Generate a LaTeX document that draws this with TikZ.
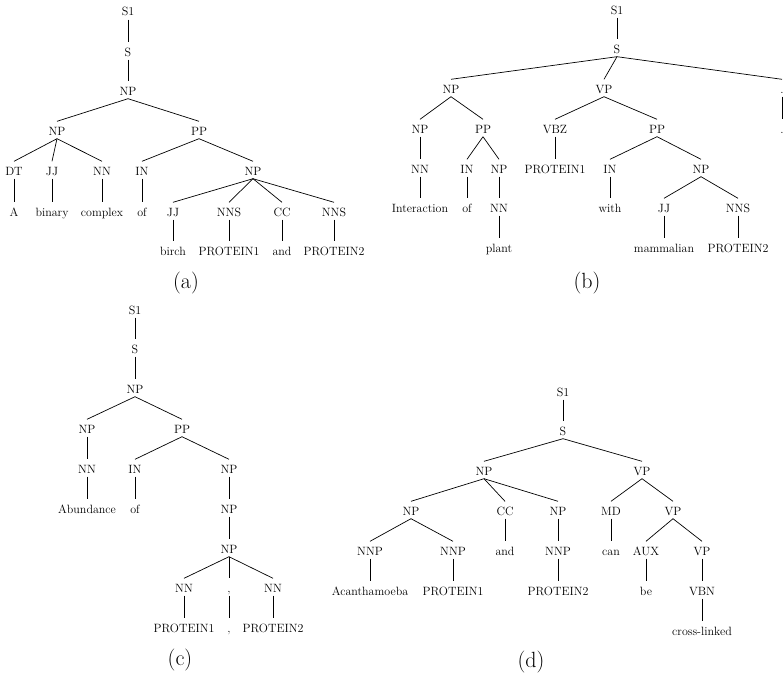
\documentclass[tikz,border=0pt]{standalone}
\tikzset{
  lbl/.style    = {inner sep=1.5pt, text height=12pt, text depth=2pt,
                   font=\fontsize{12}{14}\selectfont},
  captxt/.style = {inner sep=0pt, font=\fontsize{22}{26}\selectfont},
  edge/.style   = {draw=black, line width=0.7pt}
}
\begin{document}
\begin{tikzpicture}[x=1pt, y=-1pt]
  \useasboundingbox (0,0) rectangle (783,680);
  % (a)
  \node[lbl] (aS1) at (128,11) {S1};
  \node[lbl] (aS) at (128,51) {S};
  \node[lbl] (aNP) at (128,90) {NP};
  \node[lbl] (aNPl) at (57,130) {NP};
  \node[lbl] (aPP) at (199,130) {PP};
  \node[lbl] (aDT) at (14,170) {DT};
  \node[lbl] (aJJ) at (52,170) {JJ};
  \node[lbl] (aNN) at (102,170) {NN};
  \node[lbl] (aIN) at (142,170) {IN};
  \node[lbl] (aNPr) at (253,170) {NP};
  \node[lbl] (aA) at (14,211) {A};
  \node[lbl] (abinary) at (52,211) {binary};
  \node[lbl] (acomplex) at (102,211) {complex};
  \node[lbl] (aof) at (142,211) {of};
  \node[lbl] (aJJb) at (173,211) {JJ};
  \node[lbl] (aNNSa) at (229,211) {NNS};
  \node[lbl] (aCC) at (282,211) {CC};
  \node[lbl] (aNNSb) at (334,211) {NNS};
  \node[lbl] (abirch) at (173,250) {birch};
  \node[lbl] (aprotA) at (229,250) {PROTEIN1};
  \node[lbl] (aand) at (282,250) {and};
  \node[lbl] (aprotB) at (334,250) {PROTEIN2};
  \node[captxt] (capa) at (186,283) {(a)};
  \foreach \a/\b in {aS1/aS,aS/aNP,aNP/aNPl,aNP/aPP,aNPl/aDT,aNPl/aJJ,aNPl/aNN,
                     aDT/aA,aJJ/abinary,aNN/acomplex,aPP/aIN,aPP/aNPr,aIN/aof,
                     aNPr/aJJb,aNPr/aNNSa,aNPr/aCC,aNPr/aNNSb,aJJb/abirch,
                     aNNSa/aprotA,aCC/aand,aNNSb/aprotB}
    \draw[edge] (\a.south) -- (\b.north);
  % (b)
  \node[lbl] (bS1) at (617,9) {S1};
  \node[lbl] (bS) at (617,48) {S};
  \node[lbl] (bNP) at (451,88) {NP};
  \node[lbl] (bVP) at (604,88) {VP};
  \node[lbl] (bdot) at (782,88) {.};
  \node[lbl] (bNPa) at (420,128) {NP};
  \node[lbl] (bPP) at (483,128) {PP};
  \node[lbl] (bVBZ) at (555,128) {VBZ};
  \node[lbl] (bPPb) at (657,128) {PP};
  \node[lbl] (bdotw) at (782,128) {.};
  \node[lbl] (bNN) at (420,168) {NN};
  \node[lbl] (bIN) at (467,168) {IN};
  \node[lbl] (bNPb) at (499,168) {NP};
  \node[lbl] (bprotA) at (555,168) {PROTEIN1};
  \node[lbl] (bINb) at (610,168) {IN};
  \node[lbl] (bNPc) at (701,168) {NP};
  \node[lbl] (binter) at (420,207) {Interaction};
  \node[lbl] (bof) at (467,207) {of};
  \node[lbl] (bNNb) at (499,207) {NN};
  \node[lbl] (bwith) at (610,207) {with};
  \node[lbl] (bJJ) at (664,207) {JJ};
  \node[lbl] (bNNS) at (738,207) {NNS};
  \node[lbl] (bplant) at (499,247) {plant};
  \node[lbl] (bmamm) at (664,247) {mammalian};
  \node[lbl] (bprotB) at (738,247) {PROTEIN2};
  \node[captxt] (capb) at (587,283) {(b)};
  \foreach \a/\b in {bS1/bS,bS/bNP,bS/bVP,bS/bdot,bdot/bdotw,bNP/bNPa,bNP/bPP,
                     bNPa/bNN,bNN/binter,bPP/bIN,bPP/bNPb,bIN/bof,bNPb/bNNb,
                     bNNb/bplant,bVP/bVBZ,bVP/bPPb,bVBZ/bprotA,bPPb/bINb,
                     bPPb/bNPc,bINb/bwith,bNPc/bJJ,bNPc/bNNS,bJJ/bmamm,bNNS/bprotB}
    \draw[edge] (\a.south) -- (\b.north);
  % (c)
  \node[lbl] (cS1) at (135,309) {S1};
  \node[lbl] (cS) at (135,348) {S};
  \node[lbl] (cNP) at (135,388) {NP};
  \node[lbl] (cNPa) at (87,428) {NP};
  \node[lbl] (cPP) at (182,428) {PP};
  \node[lbl] (cNN) at (87,468) {NN};
  \node[lbl] (cIN) at (135,468) {IN};
  \node[lbl] (cNPb) at (229,468) {NP};
  \node[lbl] (cabund) at (87,508) {Abundance};
  \node[lbl] (cof) at (135,508) {of};
  \node[lbl] (cNPc) at (229,508) {NP};
  \node[lbl] (cNPd) at (229,548) {NP};
  \node[lbl] (cNNa) at (184,587) {NN};
  \node[lbl] (ccomma) at (229,587) {,};
  \node[lbl] (cNNb) at (273,587) {NN};
  \node[lbl] (cprotA) at (184,627) {PROTEIN1};
  \node[lbl] (ccommaw) at (229,627) {,};
  \node[lbl] (cprotB) at (273,627) {PROTEIN2};
  \node[captxt] (capc) at (180,660) {(c)};
  \foreach \a/\b in {cS1/cS,cS/cNP,cNP/cNPa,cNP/cPP,cNPa/cNN,cNN/cabund,cPP/cIN,
                     cPP/cNPb,cIN/cof,cNPb/cNPc,cNPc/cNPd,cNPd/cNNa,cNPd/ccomma,
                     cNPd/cNNb,cNNa/cprotA,ccomma/ccommaw,cNNb/cprotB}
    \draw[edge] (\a.south) -- (\b.north);
  % (d)
  \node[lbl] (dS1) at (563,391) {S1};
  \node[lbl] (dS) at (563,430) {S};
  \node[lbl] (dNP) at (484,470) {NP};
  \node[lbl] (dVP) at (642,470) {VP};
  \node[lbl] (dNPa) at (411,510) {NP};
  \node[lbl] (dCC) at (505,510) {CC};
  \node[lbl] (dNPb) at (558,510) {NP};
  \node[lbl] (dMD) at (611,510) {MD};
  \node[lbl] (dVPb) at (673,510) {VP};
  \node[lbl] (dNNPa) at (370,550) {NNP};
  \node[lbl] (dNNPb) at (453,550) {NNP};
  \node[lbl] (dand) at (505,550) {and};
  \node[lbl] (dNNPc) at (558,550) {NNP};
  \node[lbl] (dcan) at (611,550) {can};
  \node[lbl] (dAUX) at (646,550) {AUX};
  \node[lbl] (dVPc) at (702,550) {VP};
  \node[lbl] (dacanth) at (370,590) {Acanthamoeba};
  \node[lbl] (dprotA) at (453,590) {PROTEIN1};
  \node[lbl] (dprotB) at (558,590) {PROTEIN2};
  \node[lbl] (dbe) at (646,590) {be};
  \node[lbl] (dVBN) at (702,590) {VBN};
  \node[lbl] (dcross) at (702,630) {cross-linked};
  \node[captxt] (capd) at (531,662) {(d)};
  \foreach \a/\b in {dS1/dS,dS/dNP,dS/dVP,dNP/dNPa,dNP/dCC,dNP/dNPb,dNPa/dNNPa,
                     dNPa/dNNPb,dNNPa/dacanth,dNNPb/dprotA,dCC/dand,dNPb/dNNPc,
                     dNNPc/dprotB,dVP/dMD,dVP/dVPb,dMD/dcan,dVPb/dAUX,dVPb/dVPc,
                     dAUX/dbe,dVPc/dVBN,dVBN/dcross}
    \draw[edge] (\a.south) -- (\b.north);
\end{tikzpicture}
\end{document}
